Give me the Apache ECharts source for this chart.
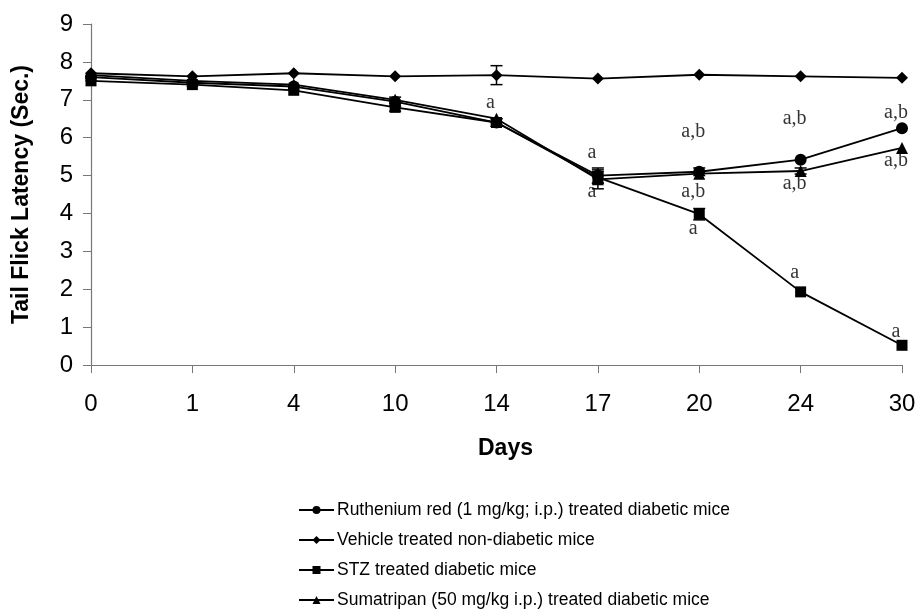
<!DOCTYPE html>
<html>
<head>
<meta charset="utf-8">
<script src="https://cdn.jsdelivr.net/npm/echarts@6/dist/echarts.min.js"></script>
<style>
  html, body { margin: 0; padding: 0; background: #fff; }
  #chart { width: 920px; height: 611px; }
</style>
</head>
<body>
<div id="chart"></div>
<script>
// days on x axis
var days = ['0', '1', '4', '10', '14', '17', '20', '24', '30'];

// tail flick latency (sec.)
var ruthenium = [7.6, 7.45, 7.35, 6.95, 6.4, 5.0, 5.1, 5.42, 6.25];
var vehicle = [7.7, 7.62, 7.7, 7.62, 7.65, 7.56, 7.66, 7.62, 7.58];
var stz = [7.5, 7.4, 7.25, 6.8, 6.4, 4.95, 3.98, 1.93, 0.52];
var sumatriptan = [7.65, 7.5, 7.4, 7.0, 6.5, 4.9, 5.05, 5.12, 5.73];

// error (+/-), 0 where no bar is visible
var rutheniumErr = [0, 0, 0, 0.12, 0.1, 0.2, 0.1, 0, 0];
var vehicleErr = [0, 0, 0, 0, 0.25, 0, 0, 0, 0];
var stzErr = [0, 0, 0, 0.1, 0.1, 0.15, 0.15, 0, 0];
var sumatriptanErr = [0, 0, 0, 0, 0, 0.25, 0, 0.08, 0];

// significance marks
var markDay = ['14', '17', '17', '20', '20', '20', '24', '24', '24', '30', '30', '30'];
var markVal = [6.93, 5.6, 4.57, 6.15, 4.57, 3.6, 6.5, 4.78, 2.43, 6.65, 5.4, 0.87];
var markText = ['a', 'a', 'a', 'a,b', 'a,b', 'a', 'a,b', 'a,b', 'a', 'a,b', 'a,b', 'a'];

var names = [
  'Ruthenium red (1 mg/kg; i.p.) treated diabetic mice',
  'Vehicle treated non-diabetic mice',
  'STZ treated diabetic mice',
  'Sumatripan (50 mg/kg i.p.) treated diabetic mice'
];

var chart = echarts.init(document.getElementById('chart'));

function lineSeries(name, data, symbol, size) {
  return {
    name: name,
    type: 'line',
    data: data,
    symbol: symbol,
    symbolSize: size,
    color: '#000',
    lineStyle: { color: '#000', width: 1.8 },
    itemStyle: { color: '#000' },
    z: 3
  };
}

function errSeries(vals, errs) {
  var d = [];
  for (var i = 0; i < vals.length; i++) {
    if (errs[i] > 0) d.push([i, vals[i] - errs[i], vals[i] + errs[i]]);
  }
  return {
    type: 'custom',
    data: d,
    z: 2,
    renderItem: function (params, api) {
      var lo = api.coord([api.value(0), api.value(1)]);
      var hi = api.coord([api.value(0), api.value(2)]);
      var w = 6;
      var st = { stroke: '#000', lineWidth: 1.5 };
      return {
        type: 'group',
        children: [
          { type: 'line', shape: { x1: lo[0], y1: lo[1], x2: hi[0], y2: hi[1] }, style: st },
          { type: 'line', shape: { x1: lo[0] - w, y1: lo[1], x2: lo[0] + w, y2: lo[1] }, style: st },
          { type: 'line', shape: { x1: hi[0] - w, y1: hi[1], x2: hi[0] + w, y2: hi[1] }, style: st }
        ]
      };
    }
  };
}

var marks = markDay.map(function (d, i) { return [d, markVal[i], markText[i]]; });

chart.setOption({
  animation: false,
  backgroundColor: '#fff',
  grid: { left: 91, right: 18, top: 24, bottom: 246 },
  legend: {
    orient: 'vertical',
    left: 298,
    top: 500,
    padding: 0,
    itemWidth: 35,
    itemHeight: 10,
    itemGap: 10,
    data: names,
    textStyle: { fontFamily: 'Liberation Sans', fontSize: 17.5, lineHeight: 20, color: '#000', padding: [0, 0, 0, -2] }
  },
  xAxis: {
    type: 'category',
    data: days,
    boundaryGap: false,
    name: 'Days',
    nameLocation: 'middle',
    nameGap: 72,
    nameTextStyle: { fontFamily: 'Liberation Sans', fontSize: 23, fontWeight: 'bold', color: '#000', padding: [0, 0, 0, 18] },
    axisLine: { lineStyle: { color: '#777', width: 1.2 } },
    axisTick: { show: true, length: 8, alignWithLabel: true, lineStyle: { color: '#777' } },
    axisLabel: { fontFamily: 'Liberation Sans', fontSize: 24, color: '#000', margin: 27 },
    splitLine: { show: false }
  },
  yAxis: {
    type: 'value',
    min: 0,
    max: 9,
    interval: 1,
    name: 'Tail Flick Latency (Sec.)',
    nameLocation: 'middle',
    nameRotate: 90,
    nameGap: 58,
    nameTextStyle: { fontFamily: 'Liberation Sans', fontSize: 23, fontWeight: 'bold', color: '#000' },
    axisLine: { show: true, lineStyle: { color: '#777', width: 1.2 } },
    axisTick: { show: true, length: 8, lineStyle: { color: '#777' } },
    axisLabel: { fontFamily: 'Liberation Sans', fontSize: 24, color: '#000', margin: 18 },
    splitLine: { show: false }
  },
  series: [
    lineSeries(names[0], ruthenium, 'circle', 12),
    lineSeries(names[1], vehicle, 'diamond', 12),
    lineSeries(names[2], stz, 'rect', 11),
    lineSeries(names[3], sumatriptan, 'triangle', 12),
    errSeries(ruthenium, rutheniumErr),
    errSeries(vehicle, vehicleErr),
    errSeries(stz, stzErr),
    errSeries(sumatriptan, sumatriptanErr),
    {
      type: 'scatter',
      data: marks,
      symbolSize: 0,
      silent: true,
      label: {
        show: true,
        position: 'inside',
        offset: [-6, 0],
        fontFamily: 'Liberation Serif',
        fontSize: 20,
        color: '#000',
        formatter: function (p) { return p.data[2]; }
      },
      z: 4
    }
  ]
});
</script>
</body>
</html>
